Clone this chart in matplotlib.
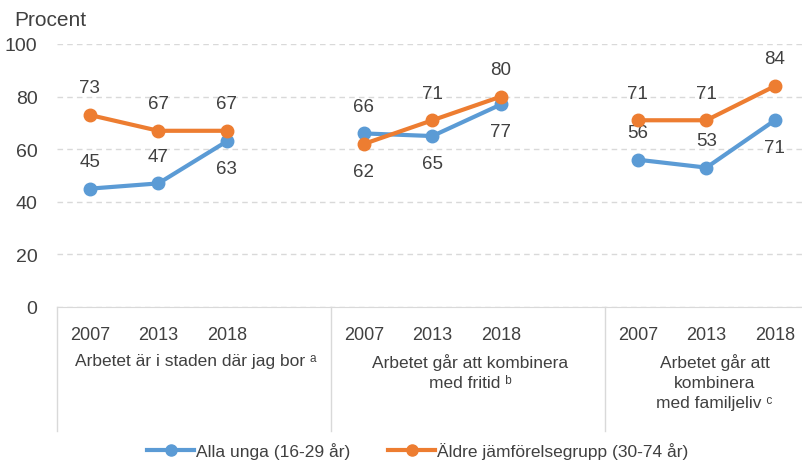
import matplotlib.pyplot as plt
from matplotlib.lines import Line2D

# data
years = ["2007", "2013", "2018"]
groups = ["Arbetet är i staden där jag bor ᵃ",
          "Arbetet går att kombinera\nmed fritid ᵇ",
          "Arbetet går att\nkombinera\nmed familjeliv ᶜ"]
unga = [[45, 47, 63], [66, 65, 77], [56, 53, 71]]
aldre = [[73, 67, 67], [62, 71, 80], [71, 71, 84]]
unga_pos = [[1, 1, -1], [1, -1, -1], [1, 1, -1]]     # 1 = label above, -1 = below
aldre_pos = [[1, 1, 1], [-1, 1, 1], [1, 1, 1]]
names = ["Alla unga (16-29 år)", "Äldre jämförelsegrupp (30-74 år)"]

blue = "#5B9BD5"
orange = "#ED7D31"
txt = "#404040"

plt.rcParams['font.family'] = ['Liberation Sans', 'DejaVu Sans']

fig = plt.figure(figsize=(8.03, 4.64), dpi=100)
ax = fig.add_axes([57/803, 1-308/464, 746/803, 263/464])

unit = 68.5  # px per x unit
for g in range(3):
    xs = [4*g + 0.48 + j for j in range(3)]
    for vals, pos, col in [(unga[g], unga_pos[g], blue), (aldre[g], aldre_pos[g], orange)]:
        ax.plot(xs, vals, color=col, lw=3, marker="o", ms=9, clip_on=False, zorder=3)
        for x, v, p in zip(xs, vals, pos):
            ax.annotate(str(v), (x, v), xytext=(0, 19.5*p), textcoords="offset points",
                        ha="center", va="center", fontsize=13.5, color=txt)
    for j, y in enumerate(years):
        ax.text(4*g + 0.48 + j, -0.103, y, transform=ax.get_xaxis_transform(),
                ha="center", va="center", fontsize=13, color=txt)

label_x = [2.03, 6.03, 9.6]
for x, lab in zip(label_x, groups):
    ax.text(x, -0.175, lab, transform=ax.get_xaxis_transform(), ha="center", va="top",
            fontsize=12.5, color=txt, linespacing=1.4)

for sx in [0, 4, 8]:
    ax.plot([sx, sx], [0, -0.47], color="#D9D9D9", lw=1,
            transform=ax.get_xaxis_transform(), clip_on=False)

ax.set_xlim(0, 746/unit)
ax.set_ylim(0, 100)
ax.set_yticks(range(0, 101, 20))
ax.set_xticks([])
ax.tick_params(axis="y", length=0, labelsize=14, labelcolor=txt, pad=14)
ax.grid(axis="y", color="#D9D9D9", linestyle=(0, (4, 3)), lw=1)
ax.set_axisbelow(True)
for s in ["top", "right", "left"]:
    ax.spines[s].set_visible(False)
ax.spines["bottom"].set_color("#D9D9D9")
ax.spines["bottom"].set_zorder(0)

fig.text(14/803, 1-20/464, "Procent", fontsize=15, color=txt, va="center")

handles = [Line2D([], [], color=blue, lw=3, marker="o", ms=8),
           Line2D([], [], color=orange, lw=3, marker="o", ms=8)]
fig.legend(handles, names, loc="center", bbox_to_anchor=(0.52, 1-452/464), ncol=2,
           frameon=False, fontsize=12.5, handlelength=2.7, handletextpad=0.1,
           columnspacing=2.2, labelcolor=txt)

fig.savefig("out.png", dpi=100)
